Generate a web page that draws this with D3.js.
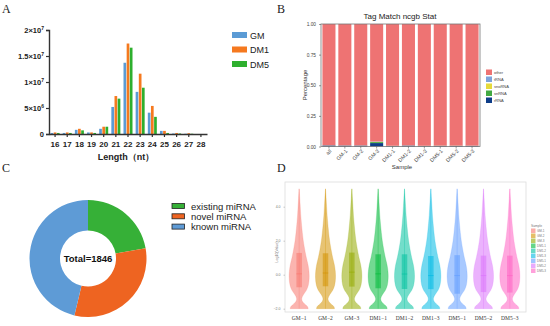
<!DOCTYPE html>
<html>
<head>
<meta charset="utf-8">
<script src="https://cdn.jsdelivr.net/npm/d3@7"></script>
<style>
  body { margin: 0; background: #fff; }
  svg { display: block; }
</style>
</head>
<body>
<svg id="fig" width="550" height="326"></svg>
<script>
// ---- data ----
// A: length distribution
var lengths = ["16","17","18","19","20","21","22","23","24","25","26","27","28"];
var groupNames = ["GM", "DM1", "DM5"];
var gmCounts  = [2e5, 2e5, 8e5, 3e5, 1.0e6, 5.2e6, 1.37e7, 8.1e6, 4.1e6, 6e5, 1e5, 5e4, 0];
var dm1Counts = [3e5, 3e5, 1.0e6, 3e5, 1.4e6, 7.3e6, 1.74e7, 1.16e7, 5.4e6, 6e5, 2e5, 1.5e5, 0];
var dm5Counts = [2e5, 2e5, 7e5, 2e5, 1.4e6, 6.8e6, 1.66e7, 8.9e6, 3.3e6, 2e5, 1e5, 5e4, 0];
var yTicksA = [0, 5e6, 1e7, 1.5e7, 2e7];
var yTickLabelsA = [["0",""], ["5×10","6"], ["1×10","7"], ["1.5×10","7"], ["2×10","7"]];

// B: ncRNA match fractions
var samplesB = ["all","GM-1","GM-2","GM-3","DM1-1","DM1-2","DM1-3","DM5-1","DM5-2","DM5-3"];
var rnaTypes = ["rRNA","snRNA","snoRNA","tRNA","other"];
var rRNA   = [0.008, 0.007, 0.007, 0.028, 0.003, 0.007, 0.003, 0.004, 0.004, 0.005];
var snRNA  = [0.001, 0.001, 0.001, 0.008, 0.002, 0.001, 0.002, 0.002, 0.002, 0.001];
var snoRNA = [0.000, 0.000, 0.000, 0.002, 0.000, 0.000, 0.000, 0.000, 0.000, 0.000];
var tRNA   = [0.001, 0.001, 0.001, 0.003, 0.001, 0.001, 0.001, 0.001, 0.001, 0.001];
var legendOrderB = ["other","tRNA","snoRNA","snRNA","rRNA"];

// C: miRNA categories
var mirnaTypes = ["existing miRNA", "novel miRNA", "known miRNA"];
var mirnaCounts = [410, 582, 854];

// D: expression violins
var samplesD = ["GM-1","GM-2","GM-3","DM1-1","DM1-2","DM1-3","DM5-1","DM5-2","DM5-3"];
var q1D     = [-0.74, -0.68, -0.70, -0.80, -0.84, -0.85, -1.12, -1.02, -1.05];
var medianD = [0.05, 0.10, 0.15, 0.05, 0.04, -0.05, -0.05, -0.05, -0.05];
var q3D     = [1.28, 1.26, 1.30, 1.20, 1.20, 1.10, 1.15, 1.12, 1.12];
// shared violin outline: [log10 value, relative width]
var violinShape = [[-2,0.9],[-1.88,0.84],[-1.72,0.55],[-1.55,0.3],[-1.38,0.26],[-1.18,0.42],
  [-0.92,0.72],[-0.6,0.92],[-0.2,1.0],[0.2,0.98],[0.6,0.88],[1,0.72],[1.5,0.55],[2,0.41],
  [2.5,0.31],[3,0.23],[3.5,0.16],[4,0.11],[4.5,0.06],[5.05,0]];
var yTicksD = [-2, 0, 2, 4];

var svg = d3.select("#fig");
var sans = "'Liberation Sans', Arial, sans-serif";
var serif = "'Liberation Serif', 'Times New Roman', serif";

// panel letters
[["A",2,13],["B",277,13],["C",2,172],["D",277,172]].forEach(function(p) {
  svg.append("text").attr("x", p[1]).attr("y", p[2]).text(p[0])
    .attr("font-family", serif).attr("font-size", 12).attr("fill", "#222");
});

// ================= A =================
(function() {
  var colors = ["#5B9BD5", "#F5791F", "#2EAF2E"];
  var series = [gmCounts, dm1Counts, dm5Counts];
  var x = d3.scaleBand().domain(lengths).range([49, 207]);
  var xi = d3.scaleBand().domain(groupNames).range([-4.5, 4.5]).paddingInner(0.15);
  var y = d3.scaleLinear().domain([0, 2e7]).range([134, 30]);
  var g = svg.append("g");

  series.forEach(function(vals, si) {
    g.selectAll(null).data(vals).enter().append("rect")
      .attr("x", function(d, i) { return x(lengths[i]) + x.bandwidth() / 2 + xi(groupNames[si]); })
      .attr("y", function(d) { return y(d); })
      .attr("width", xi.bandwidth())
      .attr("height", function(d) { return 134 - y(d); })
      .attr("fill", colors[si]);
  });

  var yAxis = g.append("g").attr("transform", "translate(49,0)")
    .call(d3.axisLeft(y).tickValues(yTicksA).tickSize(3).tickFormat(""));
  var xAxis = g.append("g").attr("transform", "translate(0,134)")
    .call(d3.axisBottom(x).tickSize(3).tickSizeOuter(0));
  [yAxis, xAxis].forEach(function(a) {
    a.select(".domain").attr("stroke", "#333").attr("stroke-width", 1.4);
    a.selectAll(".tick line").attr("stroke", "#333").attr("stroke-width", 1.2);
  });
  xAxis.selectAll("text").attr("font-family", sans).attr("font-weight", "bold")
    .attr("font-size", 8).attr("fill", "#222").attr("dy", "0.9em");

  yTicksA.forEach(function(t, i) {
    var tx = g.append("text").attr("x", 44).attr("y", y(t) + 3)
      .attr("text-anchor", "end").attr("font-family", sans).attr("font-weight", "bold")
      .attr("font-size", 7.5).attr("fill", "#222");
    tx.append("tspan").text(yTickLabelsA[i][0]);
    if (yTickLabelsA[i][1]) {
      tx.append("tspan").attr("dy", -3.5).attr("font-size", 5).text(yTickLabelsA[i][1]);
    }
  });

  g.append("text").attr("x", 126).attr("y", 160).attr("text-anchor", "middle")
    .attr("font-family", sans).attr("font-weight", "bold").attr("font-size", 9)
    .attr("fill", "#222").text("Length（nt）");

  groupNames.forEach(function(n, i) {
    g.append("rect").attr("x", 232).attr("y", 32 + i * 14.5).attr("width", 15).attr("height", 6)
      .attr("fill", colors[i]);
    g.append("text").attr("x", 250).attr("y", 38.5 + i * 14.5).text(n)
      .attr("font-family", sans).attr("font-size", 9).attr("fill", "#222");
  });
})();

// ================= B =================
(function() {
  var colors = { other: "#EE7373", tRNA: "#7DA3DB", snoRNA: "#E6DA3A", snRNA: "#42A942", rRNA: "#0E3D88" };
  var rows = samplesB.map(function(s, i) {
    var r = { sample: s, rRNA: rRNA[i], snRNA: snRNA[i], snoRNA: snoRNA[i], tRNA: tRNA[i] };
    r.other = 1 - r.rRNA - r.snRNA - r.snoRNA - r.tRNA;
    return r;
  });
  var stack = d3.stack().keys(rnaTypes)(rows);
  var x = d3.scaleBand().domain(samplesB).range([321, 480]).paddingInner(0.18).paddingOuter(0.09);
  var y = d3.scaleLinear().domain([0, 1]).range([146.5, 24]);
  var g = svg.append("g");

  g.selectAll("g.layer").data(stack).enter().append("g")
    .attr("fill", function(d) { return colors[d.key]; })
    .selectAll("rect").data(function(d) { return d; }).enter().append("rect")
    .attr("x", function(d) { return x(d.data.sample); })
    .attr("y", function(d) { return y(d[1]); })
    .attr("height", function(d) { return y(d[0]) - y(d[1]); })
    .attr("width", x.bandwidth());

  g.append("rect").attr("x", 321).attr("y", 24).attr("width", 159).attr("height", 122.5)
    .attr("fill", "none").attr("stroke", "#777").attr("stroke-width", 0.8);

  var yAxis = g.append("g").attr("transform", "translate(321,0)")
    .call(d3.axisLeft(y).tickValues([0, 0.25, 0.5, 0.75, 1]).tickFormat(d3.format(".2f")).tickSize(2));
  yAxis.select(".domain").remove();
  yAxis.selectAll(".tick line").attr("stroke", "#555").attr("stroke-width", 0.6);
  yAxis.selectAll("text").attr("font-family", sans).attr("font-size", 4.8).attr("fill", "#444");

  var xAxis = g.append("g").attr("transform", "translate(0,146.5)")
    .call(d3.axisBottom(x).tickSize(2));
  xAxis.select(".domain").remove();
  xAxis.selectAll(".tick line").attr("stroke", "#555").attr("stroke-width", 0.6);
  xAxis.selectAll("text").attr("font-family", sans).attr("font-size", 5.2).attr("fill", "#444")
    .attr("text-anchor", "end").attr("dy", 0).attr("y", 5)
    .attr("transform", "rotate(-45,0,5) translate(2,2)");

  g.append("text").attr("x", 400).attr("y", 19).attr("text-anchor", "middle")
    .attr("font-family", sans).attr("font-size", 8).attr("fill", "#222").text("Tag Match ncgb Stat");
  g.append("text").attr("transform", "translate(307,85) rotate(-90)").attr("text-anchor", "middle")
    .attr("font-family", sans).attr("font-size", 6).attr("fill", "#333").text("Percentage");
  g.append("text").attr("x", 402).attr("y", 169).attr("text-anchor", "middle")
    .attr("font-family", sans).attr("font-size", 6).attr("fill", "#333").text("Sample");

  legendOrderB.forEach(function(k, i) {
    g.append("rect").attr("x", 486).attr("y", 69.5 + i * 7).attr("width", 6).attr("height", 5.5)
      .attr("fill", colors[k]);
    g.append("text").attr("x", 494).attr("y", 74 + i * 7).text(k)
      .attr("font-family", sans).attr("font-size", 4).attr("fill", "#444");
  });
})();

// ================= C =================
(function() {
  var colors = ["#36B037", "#EE6421", "#5E9BD6"];
  var cx = 88, cy = 258.5;
  var pie = d3.pie().sort(null)(mirnaCounts);
  var arc = d3.arc().innerRadius(28).outerRadius(58.5);
  var g = svg.append("g").attr("transform", "translate(" + cx + "," + cy + ")");
  g.selectAll("path").data(pie).enter().append("path")
    .attr("d", arc).attr("fill", function(d, i) { return colors[i]; });
  g.append("text").attr("y", 3.5).attr("text-anchor", "middle")
    .attr("font-family", sans).attr("font-weight", "bold").attr("font-size", 9.5)
    .attr("fill", "#111").text("Total=" + d3.sum(mirnaCounts));

  mirnaTypes.forEach(function(n, i) {
    svg.append("rect").attr("x", 172).attr("y", 203.5 + i * 10.3).attr("width", 12.5).attr("height", 5)
      .attr("fill", colors[i]).attr("stroke", "#222").attr("stroke-width", 0.8);
    svg.append("text").attr("x", 191).attr("y", 209.5 + i * 10.3).text(n)
      .attr("font-family", sans).attr("font-size", 9.5).attr("fill", "#222");
  });
})();

// ================= D =================
(function() {
  var colors = ["#F8766D","#D39200","#93AA00","#00BA38","#00C19F","#00B9E3","#619CFF","#DB72FB","#FF61C3"];
  var x = d3.scaleBand().domain(samplesD).range([286, 523]);
  var y = d3.scaleLinear().domain([-2, 4]).range([308.7, 206.7]);
  var halfW = 10, boxW = 5.5;
  var g = svg.append("g");

  g.append("rect").attr("x", 285).attr("y", 182).attr("width", 241).attr("height", 130)
    .attr("fill", "none").attr("stroke", "#ddd").attr("stroke-width", 0.8);

  samplesD.forEach(function(s, i) {
    var cxv = x(s) + x.bandwidth() / 2;
    var area = d3.area().curve(d3.curveCatmullRom)
      .y(function(d) { return y(d[0]); })
      .x0(function(d) { return cxv - d[1] * halfW; })
      .x1(function(d) { return cxv + d[1] * halfW; });
    g.append("path").datum(violinShape).attr("d", area)
      .attr("fill", colors[i]).attr("fill-opacity", 0.55)
      .attr("stroke", colors[i]).attr("stroke-opacity", 0.4).attr("stroke-width", 0.5);
    g.append("line").attr("x1", cxv).attr("x2", cxv)
      .attr("y1", y(-2)).attr("y2", y(5.05))
      .attr("stroke", colors[i]).attr("stroke-opacity", 0.6).attr("stroke-width", 0.5);
    g.append("rect").attr("x", cxv - boxW / 2).attr("y", y(q3D[i]))
      .attr("width", boxW).attr("height", y(q1D[i]) - y(q3D[i]))
      .attr("fill", colors[i]).attr("fill-opacity", 0.55);
    g.append("line").attr("x1", cxv - boxW / 2).attr("x2", cxv + boxW / 2)
      .attr("y1", y(medianD[i])).attr("y2", y(medianD[i]))
      .attr("stroke", colors[i]).attr("stroke-width", 0.6);
  });

  var yAxis = g.append("g").attr("transform", "translate(285,0)")
    .call(d3.axisLeft(y).tickValues(yTicksD).tickSize(1.5));
  yAxis.select(".domain").remove();
  yAxis.selectAll(".tick line").attr("stroke", "#999").attr("stroke-width", 0.5);
  yAxis.selectAll("text").attr("font-family", sans).attr("font-size", 3.5).attr("fill", "#777");

  var xAxis = g.append("g").attr("transform", "translate(0,312)")
    .call(d3.axisBottom(x).tickSize(0).tickFormat(function(d) { return d.replace("-", "−"); }));
  xAxis.select(".domain").remove();
  xAxis.selectAll("text").attr("font-family", serif).attr("font-size", 5.5).attr("fill", "#333").attr("dy", "0.95em");

  g.append("text").attr("transform", "translate(278,252) rotate(-90)").attr("text-anchor", "middle")
    .attr("font-family", sans).attr("font-size", 3.5).attr("fill", "#777").text("Log10(Value)");

  g.append("text").attr("x", 531).attr("y", 226.5).text("Sample")
    .attr("font-family", sans).attr("font-size", 3.3).attr("fill", "#777");
  samplesD.forEach(function(s, i) {
    g.append("rect").attr("x", 531).attr("y", 228.5 + i * 5).attr("width", 4.5).attr("height", 4.5)
      .attr("fill", colors[i]).attr("fill-opacity", 0.6);
    g.append("text").attr("x", 537).attr("y", 232 + i * 5).text(s)
      .attr("font-family", sans).attr("font-size", 3).attr("fill", "#777");
  });
})();
</script>
</body>
</html>
